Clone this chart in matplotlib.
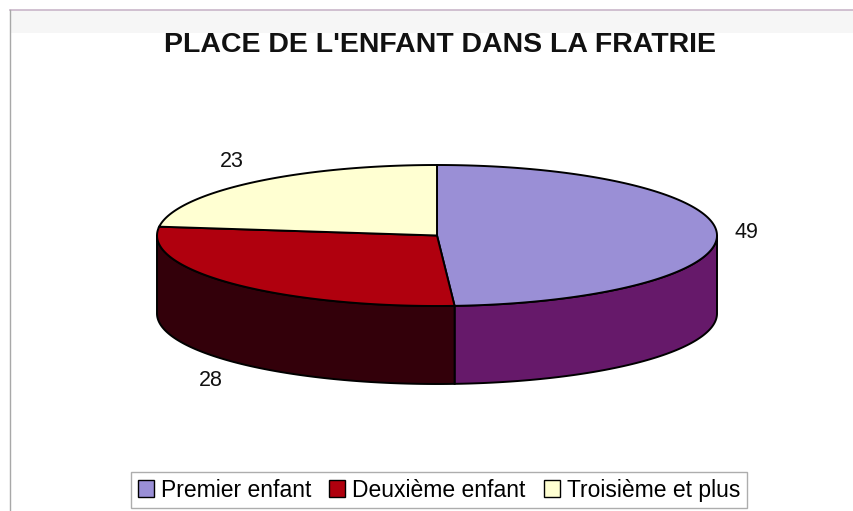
import numpy as np
import matplotlib

matplotlib.use("Agg")
import matplotlib.pyplot as plt
from matplotlib.patches import Polygon, Patch, Rectangle

# data
categories = ["Premier enfant", "Deuxième enfant", "Troisième et plus"]
values = [49, 28, 23]
title = "PLACE DE L'ENFANT DANS LA FRATRIE"

top_colors = ["#9a8fd6", "#b0000e", "#ffffd2"]
side_colors = ["#66196a", "#33000a", "#c8c8a0"]

plt.rcParams["font.family"] = ["Liberation Sans", "DejaVu Sans"]

fig = plt.figure(figsize=(8.54, 5.11), dpi=100)
ax = fig.add_axes([0, 0, 1, 1])
ax.set_xlim(0, 854)
ax.set_ylim(511, 0)
ax.axis("off")

# chart frame remnants
ax.add_patch(Rectangle((10, 10), 844, 23, color="#f6f6f6", lw=0, zorder=0))
ax.plot([10, 854], [10, 10], color="#c9b6c9", lw=1.2, zorder=1)
ax.plot([10, 10], [10, 511], color="#a8a8a8", lw=1.0, zorder=1)

ax.text(440, 45, title, ha="center", va="center", fontsize=20.5,
        fontweight="bold", color="#111111")

# 3d pie geometry (pixels)
cx, cy, rx, ry, depth = 437, 235.5, 280, 70.5, 78


def pt(theta_deg, dy=0.0):
    t = np.radians(theta_deg)
    return cx + rx * np.sin(t), cy - ry * np.cos(t) + dy


fracs = np.array(values, dtype=float) / sum(values)
bounds = np.concatenate([[0], np.cumsum(fracs) * 360])

# side walls (front half only: 90..270 deg clockwise from top)
for i in range(len(values)):
    a0, a1 = max(bounds[i], 90), min(bounds[i + 1], 270)
    if a1 <= a0:
        continue
    th = np.linspace(a0, a1, 120)
    xs, ys = pt(th)
    poly = np.column_stack([np.concatenate([xs, xs[::-1]]),
                            np.concatenate([ys, ys[::-1] + depth])])
    ax.add_patch(Polygon(poly, closed=True, facecolor=side_colors[i],
                         edgecolor="black", lw=1.4, zorder=2))

# top faces
for i in range(len(values)):
    th = np.linspace(bounds[i], bounds[i + 1], 200)
    xs, ys = pt(th)
    poly = np.column_stack([np.concatenate([[cx], xs]),
                            np.concatenate([[cy], ys])])
    ax.add_patch(Polygon(poly, closed=True, facecolor=top_colors[i],
                         edgecolor="black", lw=1.4, zorder=3))

# value labels outside the slices
for i, v in enumerate(values):
    mid = (bounds[i] + bounds[i + 1]) / 2
    t = np.radians(mid)
    lx = cx + (rx + 30) * np.sin(t)
    ly = cy - (ry + 28) * np.cos(t)
    if np.cos(t) < 0:
        ly += depth
    ax.text(lx, ly, str(v), ha="center", va="center", fontsize=15.5,
            color="#111111")

handles = [Patch(facecolor=c, edgecolor="black", lw=1.0) for c in top_colors]
leg = ax.legend(handles, categories, loc="center", ncol=3,
                bbox_to_anchor=(439 / 854, 1 - 490 / 511),
                fontsize=16.5, frameon=True, fancybox=False,
                handlelength=0.7, handleheight=0.7, handletextpad=0.3,
                columnspacing=0.8, borderpad=0.3, borderaxespad=0)
leg.get_frame().set_edgecolor("#999999")
leg.get_frame().set_linewidth(1.0)

fig.savefig("out.png", dpi=100)
